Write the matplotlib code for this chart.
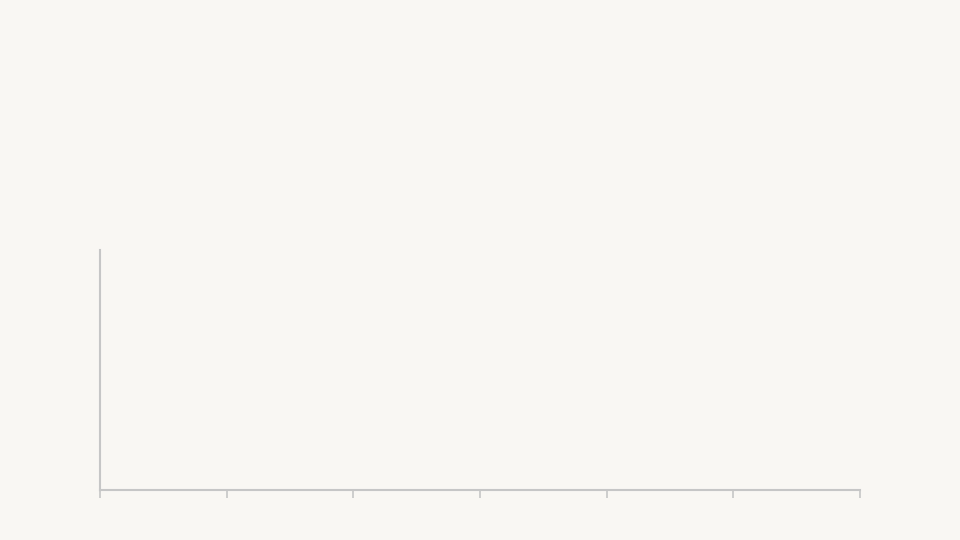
import matplotlib
matplotlib.use('Agg')
import matplotlib.pyplot as plt

# chart is at its empty first state: axes only, no marks or labels yet
x_ticks = [0, 1, 2, 3, 4, 5, 6]
x_labels = ['', '', '', '', '', '', '']
y_range = [0, 1]

bg = '#f9f7f3'
axis_color = '#c6c6c6'

fig = plt.figure(figsize=(9.6, 5.4), dpi=100, facecolor=bg)
ax = fig.add_axes([100 / 960, 50 / 540, 760 / 960, 240 / 540])
ax.set_facecolor(bg)

ax.set_xlim(x_ticks[0], x_ticks[-1])
ax.set_ylim(*y_range)
ax.set_xticks(x_ticks)
ax.set_xticklabels(x_labels)
ax.set_yticks([])

for side in ['top', 'right']:
    ax.spines[side].set_visible(False)
for side in ['left', 'bottom']:
    ax.spines[side].set_color(axis_color)
    ax.spines[side].set_linewidth(1.5)

ax.tick_params(axis='x', length=6, width=1.2, color=axis_color)

fig.savefig('out.png', dpi=100, facecolor=bg)
plt.close(fig)
